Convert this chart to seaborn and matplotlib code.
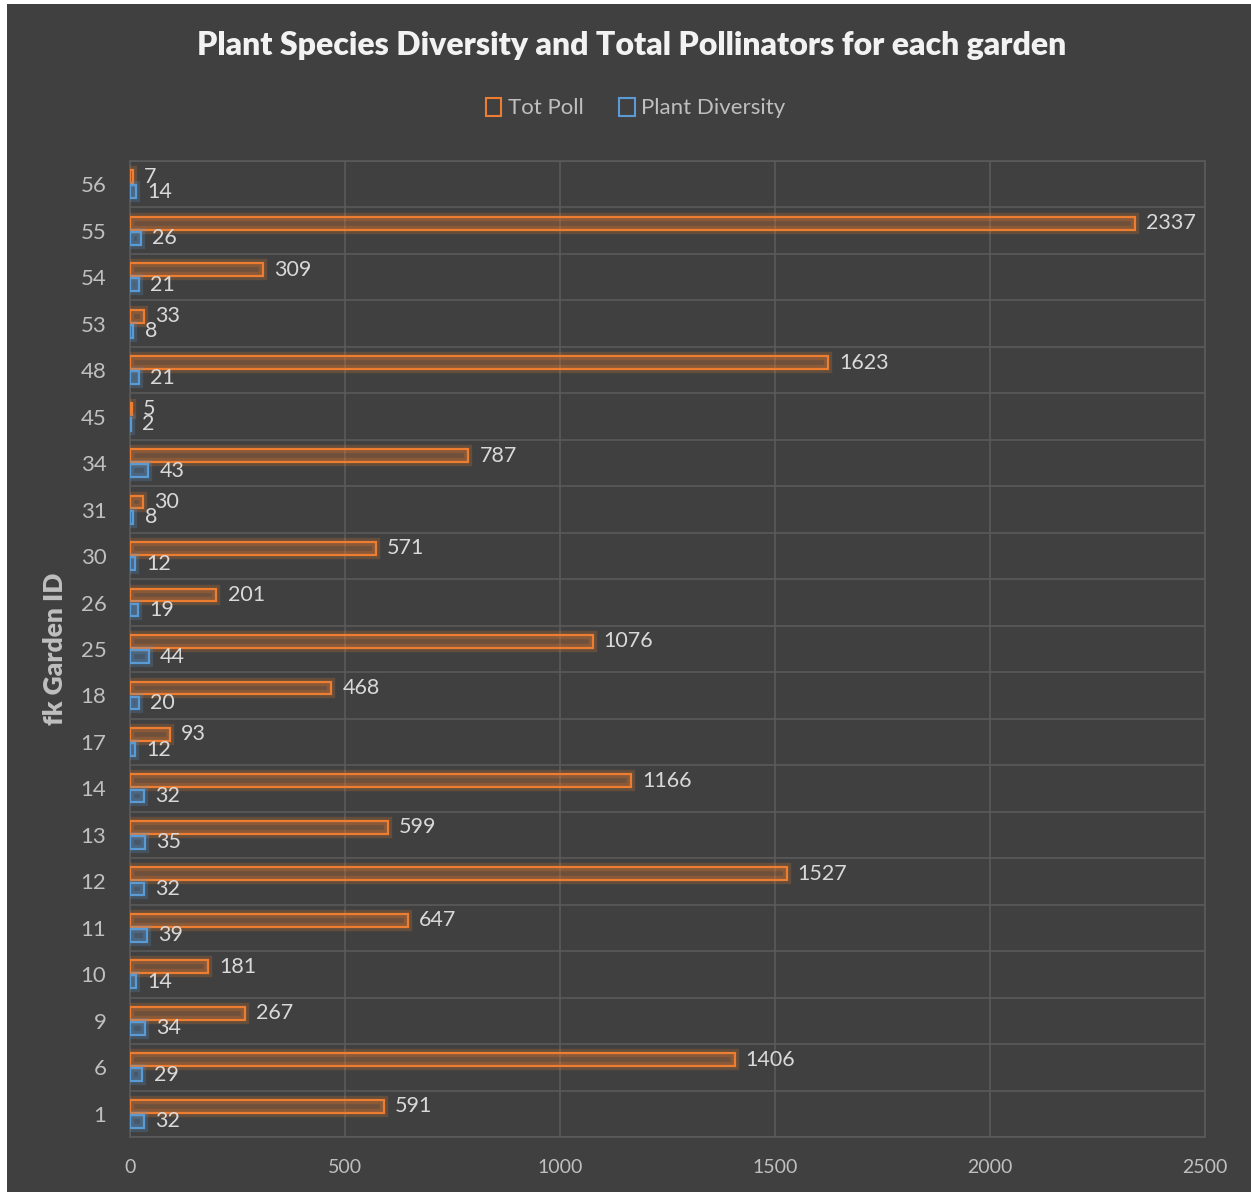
import matplotlib
matplotlib.use("Agg")
import matplotlib.pyplot as plt
import matplotlib.patheffects as pe
from matplotlib.patches import Patch, Rectangle
import seaborn as sns
import pandas as pd

garden_ids = ["56", "55", "54", "53", "48", "45", "34", "31", "30", "26", "25",
              "18", "17", "14", "13", "12", "11", "10", "9", "6", "1"]
tot_poll = [7, 2337, 309, 33, 1623, 5, 787, 30, 571, 201, 1076,
            468, 93, 1166, 599, 1527, 647, 181, 267, 1406, 591]
plant_div = [14, 26, 21, 8, 21, 2, 43, 8, 12, 19, 44,
             20, 12, 32, 35, 32, 39, 14, 34, 29, 32]
series_names = ["Tot Poll", "Plant Diversity"]
x_ticks = [0, 500, 1000, 1500, 2000, 2500]

ORANGE = "#ED7D31"
BLUE = "#5B9BD5"
BG = "#404040"
GRID = "#5A5A5A"
TXT = "#BFBFBF"
LBL = "#D9D9D9"

df = pd.DataFrame({
    "Garden": garden_ids * 2,
    "Series": [series_names[0]] * len(garden_ids) + [series_names[1]] * len(garden_ids),
    "Value": tot_poll + plant_div,
})

sns.set_theme(style="dark")
plt.rcParams["font.family"] = ["Lato", "DejaVu Sans"]

fig = plt.figure(figsize=(12.51, 11.92), dpi=100)
fig.patch.set_facecolor("white")
fig.add_artist(Rectangle((7 / 1251, 0), 1 - 7 / 1251, 1 - 4 / 1192,
                         transform=fig.transFigure, facecolor=BG, edgecolor="none", zorder=0))

ax = fig.add_axes([130 / 1251, 1 - 1137 / 1192, (1205 - 130) / 1251, (1137 - 161) / 1192])
ax.set_facecolor(BG)

sns.barplot(data=df, y="Garden", x="Value", hue="Series", order=garden_ids,
            hue_order=series_names, orient="h", width=0.65, gap=0.15,
            palette=[ORANGE, BLUE], ax=ax, legend=False, zorder=3)

for cont, col in zip(ax.containers, [ORANGE, BLUE]):
    for p in cont:
        p.set_facecolor(matplotlib.colors.to_rgba(col, 0.08))
        p.set_edgecolor(col)
        p.set_linewidth(1.6)
        p.set_path_effects([pe.Stroke(linewidth=6, foreground=col, alpha=0.22),
                            pe.Normal()])
    ax.bar_label(cont, labels=[str(int(v)) for v in cont.datavalues],
                 padding=8, color=LBL, fontsize=15.5)

ax.set_xlim(0, 2500)
ax.set_xticks(x_ticks)
ax.set_xticklabels([str(t) for t in x_ticks])
ax.set_ylim(len(garden_ids) - 0.5, -0.5)
ax.set_yticks([i + 0.5 for i in range(-1, len(garden_ids))], minor=True)

ax.grid(True, axis="x", which="major", color=GRID, linewidth=1.2, zorder=0)
ax.grid(True, axis="y", which="minor", color=GRID, linewidth=1.2, zorder=0)
ax.grid(False, axis="y", which="major")
ax.set_axisbelow(True)
for s in ax.spines.values():
    s.set_visible(True)
    s.set_color(GRID)
    s.set_linewidth(1.2)

ax.tick_params(axis="y", which="both", length=0, pad=17, labelsize=16, labelcolor=TXT)
ax.tick_params(axis="x", which="both", length=0, pad=16, labelsize=14, labelcolor=TXT)

ax.set_xlabel("")
ax.set_ylabel("fk Garden ID", fontsize=19, fontweight="heavy", color=TXT, labelpad=10)

fig.text(0.505, 1 - 46 / 1192, "Plant Species Diversity and Total Pollinators for each garden",
         ha="center", va="center", fontsize=23, fontweight="heavy", color="#F2F2F2")

handles = [Patch(facecolor="none", edgecolor=ORANGE, linewidth=1.5),
           Patch(facecolor="none", edgecolor=BLUE, linewidth=1.5)]
leg = fig.legend(handles, series_names, loc="center", bbox_to_anchor=(0.508, 1 - 108 / 1192),
                 ncol=2, frameon=False, fontsize=16, handlelength=0.7, handleheight=0.9,
                 handletextpad=0.3, columnspacing=1.6)
for t in leg.get_texts():
    t.set_color(TXT)

fig.savefig("out.png", dpi=100, facecolor=fig.get_facecolor())
